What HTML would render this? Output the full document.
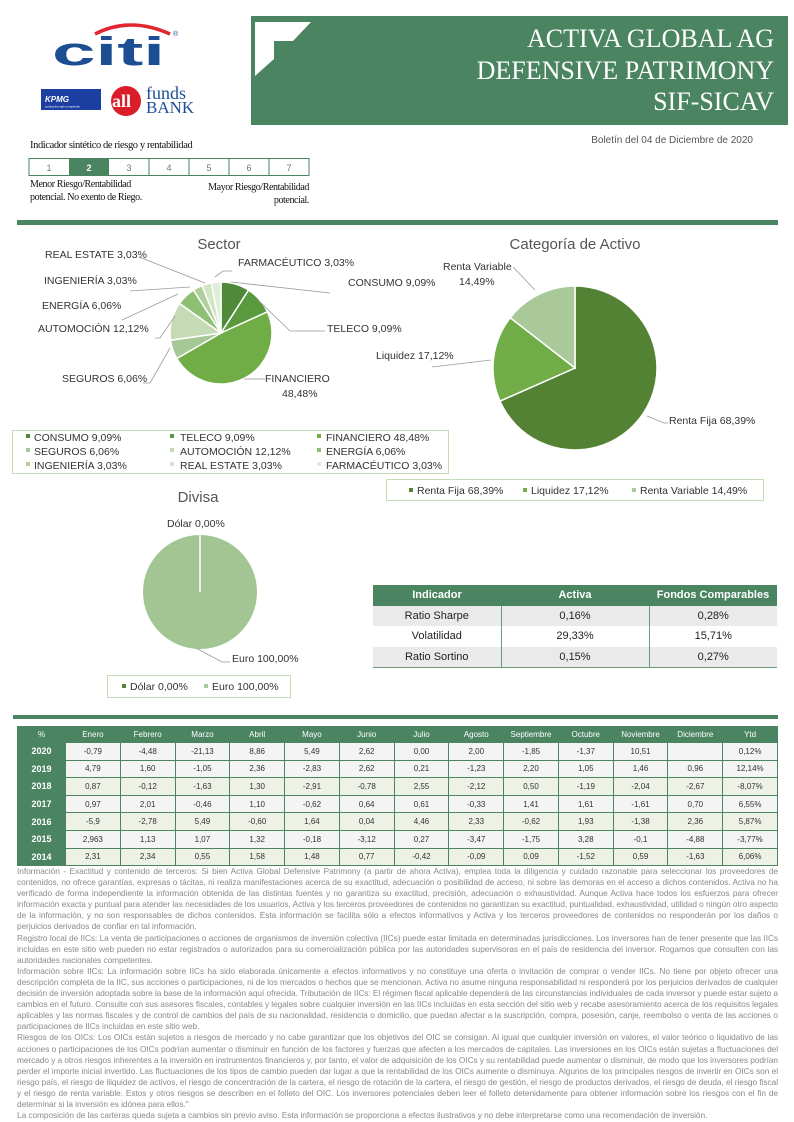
<!DOCTYPE html>
<html><head><meta charset="utf-8">
<style>
body{margin:0;background:#fff;}
#pg{position:relative;width:794px;height:1122px;overflow:hidden;font-family:"Liberation Sans",sans-serif;}
.abs{position:absolute;}
.disc{position:absolute;left:17px;top:866px;width:761px;font-size:8.3px;line-height:11.1px;color:#8a8a8a;text-align:justify;letter-spacing:-0.05px;}
.disc p{margin:0;}
table.m{position:absolute;left:17px;top:726px;width:761px;border-collapse:collapse;font-size:8px;color:#333;table-layout:fixed;}
table.m td{text-align:center;border:1px solid #4a8461;height:16.6px;padding:0;}
table.m tr.h td{background:#4a8461;color:#fff;height:15px;}
table.m td.y{background:#4a8461;color:#fff;font-weight:bold;font-size:9px;}
table.m tr.a td{background:#eef2e6;}
table.m tr.b td{background:#f4f4f4;}
table.m tr.a td.y,table.m tr.b td.y{background:#4a8461;}
table.ind{position:absolute;left:373px;top:585px;width:404px;border-collapse:collapse;font-size:11px;color:#222;}
table.ind td{text-align:center;height:20.5px;padding:0;border-left:1px solid #6b9a78;}
table.ind td:first-child{border-left:none;}
table.ind tr.h td{background:#4a8461;color:#fff;font-weight:bold;border:none;}
</style></head><body><div id="pg">
<svg class="abs" style="left:0;top:0" width="794" height="1122" xmlns="http://www.w3.org/2000/svg" font-family="Liberation Sans, sans-serif">
<rect x="251" y="16" width="537" height="109" fill="#4a8461"/>
<polygon points="255,22 311,22 293,41 274,41 274,59 255,76" fill="#fff"/>
<g fill="#fff" font-family="Liberation Serif, serif" font-size="26" text-anchor="end">
<text x="774" y="47">ACTIVA GLOBAL AG</text>
<text x="774" y="79">DEFENSIVE PATRIMONY</text>
<text x="774" y="110">SIF-SICAV</text>
</g>
<path d="M95,34 Q130,16 170,34" stroke="#e0262e" stroke-width="3.5" fill="none"/>
<text x="52" y="65" font-size="40" font-weight="bold" fill="#1d4e94" textLength="113" lengthAdjust="spacingAndGlyphs">citi</text>
<text x="173" y="36" font-size="7" fill="#1d4e94">®</text>
<rect x="41" y="89" width="60" height="21" fill="#1b3fa0"/>
<text x="45" y="102" font-size="8" font-style="italic" font-weight="bold" fill="#fff">KPMG</text>
<text x="45" y="107.5" font-size="3" fill="#fff">cutting through complexity</text>
<circle cx="126" cy="101" r="15" fill="#d91e2a"/>
<text x="112" y="107" font-size="18" font-weight="bold" fill="#fff" font-family="Liberation Serif, serif">all</text>
<text x="146" y="99" font-size="18" fill="#1d4e94" font-family="Liberation Serif, serif">funds</text>
<text x="146" y="113" font-size="17" fill="#1d4e94" font-family="Liberation Serif, serif">BANK</text>
<text x="30" y="148" font-size="10.5" font-family="Liberation Serif, serif" fill="#111" letter-spacing="-0.4">Indicador sintético de riesgo y rentabilidad</text>
<rect x="29" y="158.5" width="280" height="17" fill="#fff" stroke="#4a8461"/>
<rect x="69" y="158.5" width="40" height="17" fill="#4a8461"/>
<g stroke="#4a8461"><line x1="149" y1="158" x2="149" y2="176"/><line x1="189" y1="158" x2="189" y2="176"/><line x1="229" y1="158" x2="229" y2="176"/><line x1="269" y1="158" x2="269" y2="176"/></g>
<g font-size="9" text-anchor="middle" fill="#777"><text x="49" y="171">1</text><text x="89" y="171" fill="#fff" font-weight="bold">2</text><text x="129" y="171">3</text><text x="169" y="171">4</text><text x="209" y="171">5</text><text x="249" y="171">6</text><text x="289" y="171">7</text></g>
<g font-size="10" font-family="Liberation Serif, serif" fill="#111" letter-spacing="-0.4">
<text x="30" y="187">Menor Riesgo/Rentabilidad</text>
<text x="30" y="200">potencial. No exento de Riego.</text>
<text x="309" y="190" text-anchor="end">Mayor Riesgo/Rentabilidad</text>
<text x="309" y="203" text-anchor="end">potencial.</text>
</g>
<text x="753" y="143" font-size="10" fill="#555" text-anchor="end">Boletín del 04 de Diciembre de 2020</text>
<rect x="17" y="220" width="761" height="5" fill="#4a8461"/>
<rect x="13" y="715" width="765" height="4" fill="#4a8461"/>
<g id="p1"></g><g id="p2"></g><g id="p3"></g>
<g font-size="10.5" fill="#333" text-anchor="middle"><text x="219" y="249" font-size="15" fill="#555">Sector</text>
<text x="575" y="249" font-size="15" fill="#555">Categoría de Activo</text>
<text x="198" y="502" font-size="15" fill="#555">Divisa</text></g>
<g stroke="#999" stroke-width="0.8" fill="none">
<polyline points="139,257 205,283"/>
<polyline points="130,291 190,287"/>
<polyline points="122,320 178,294"/>
<polyline points="155,338 160,338 175,316"/>
<polyline points="143,383 150,383 170,348"/>
<polyline points="231,282 330,293"/>
<polyline points="258,300 290,331 325,331"/>
<polyline points="244,379 265,379"/>
<polyline points="215,277 223,271 232,271"/>
<polyline points="513,267 535,290"/>
<polyline points="432,367 491,360"/>
<polyline points="647,416 664,423 668,423"/>
<polyline points="196,648 222,662 230,662"/>
</g>
<g font-size="10.5" fill="#333">
<text x="45" y="258">REAL ESTATE 3,03%</text>
<text x="238" y="266">FARMACÉUTICO 3,03%</text>
<text x="44" y="284">INGENIERÍA  3,03%</text>
<text x="348" y="286">CONSUMO 9,09%</text>
<text x="42" y="309">ENERGÍA  6,06%</text>
<text x="38" y="332">AUTOMOCIÓN 12,12%</text>
<text x="327" y="332">TELECO 9,09%</text>
<text x="62" y="382">SEGUROS 6,06%</text>
<text x="265" y="382">FINANCIERO</text>
<text x="282" y="397">48,48%</text>
<text x="443" y="270">Renta Variable</text>
<text x="459" y="285">14,49%</text>
<text x="376" y="359">Liquidez 17,12%</text>
<text x="669" y="424">Renta Fija 68,39%</text>
<text x="167" y="527">Dólar 0,00%</text>
<text x="232" y="662">Euro 100,00%</text>
</g>
<rect x="12.5" y="430.5" width="436" height="43" fill="none" stroke="#c5dcb5"/>
<g font-size="10.5" fill="#333">
<rect x="26" y="434" width="4" height="4" fill="#4e8a3a"/><text x="34" y="441">CONSUMO 9,09%</text>
<rect x="170" y="434" width="4" height="4" fill="#5a9a3e"/><text x="180" y="441">TELECO 9,09%</text>
<rect x="317" y="434" width="4" height="4" fill="#70ad47"/><text x="326" y="441">FINANCIERO 48,48%</text>
<rect x="26" y="448" width="4" height="4" fill="#a6c896"/><text x="34" y="455">SEGUROS 6,06%</text>
<rect x="170" y="448" width="4" height="4" fill="#c5dbb5"/><text x="180" y="455">AUTOMOCIÓN 12,12%</text>
<rect x="317" y="448" width="4" height="4" fill="#8fbf72"/><text x="326" y="455">ENERGÍA  6,06%</text>
<rect x="26" y="462" width="4" height="4" fill="#b0d09b"/><text x="34" y="469">INGENIERÍA  3,03%</text>
<rect x="170" y="462" width="4" height="4" fill="#d3e5c7"/><text x="180" y="469">REAL ESTATE 3,03%</text>
<rect x="317" y="462" width="4" height="4" fill="#dfeed6"/><text x="326" y="469">FARMACÉUTICO 3,03%</text>
</g>
<rect x="386.5" y="479.5" width="377" height="21" fill="none" stroke="#c5dcb5"/>
<g font-size="10.5" fill="#333">
<rect x="409" y="488" width="4" height="4" fill="#548235"/><text x="417" y="494">Renta Fija 68,39%</text>
<rect x="523" y="488" width="4" height="4" fill="#70ad47"/><text x="531" y="494">Liquidez 17,12%</text>
<rect x="632" y="488" width="4" height="4" fill="#a9c99a"/><text x="640" y="494">Renta Variable 14,49%</text>
</g>
<rect x="107.5" y="675.5" width="183" height="22" fill="none" stroke="#c5dcb5"/>
<g font-size="10.5" fill="#333">
<rect x="122" y="684" width="4" height="4" fill="#548235"/><text x="130" y="690">Dólar 0,00%</text>
<rect x="204" y="684" width="4" height="4" fill="#a9c99a"/><text x="212" y="690">Euro 100,00%</text>
</g>
</svg>
<table class="ind">
<tr class="h"><td style="width:128px">Indicador</td><td style="width:148px">Activa</td><td>Fondos Comparables</td></tr>
<tr style="background:#eaeaea"><td>Ratio Sharpe</td><td>0,16%</td><td>0,28%</td></tr>
<tr style="background:#fff"><td>Volatilidad</td><td>29,33%</td><td>15,71%</td></tr>
<tr style="background:#eaeaea;border-bottom:1px solid #6b9a78"><td>Ratio Sortino</td><td>0,15%</td><td>0,27%</td></tr>
</table>
<table class="m">
<colgroup><col style="width:48px"><col><col><col><col><col><col><col><col><col><col><col><col><col></colgroup>
<tr class="h"><td>%</td><td>Enero</td><td>Febrero</td><td>Marzo</td><td>Abril</td><td>Mayo</td><td>Junio</td><td>Julio</td><td>Agosto</td><td>Septiembre</td><td>Octubre</td><td>Noviembre</td><td>Diciembre</td><td>Ytd</td></tr>
<tr class="b"><td class="y">2020</td><td>-0,79</td><td>-4,48</td><td>-21,13</td><td>8,86</td><td>5,49</td><td>2,62</td><td>0,00</td><td>2,00</td><td>-1,85</td><td>-1,37</td><td>10,51</td><td></td><td>0,12%</td></tr>
<tr class="b"><td class="y">2019</td><td>4,79</td><td>1,60</td><td>-1,05</td><td>2,36</td><td>-2,83</td><td>2,62</td><td>0,21</td><td>-1,23</td><td>2,20</td><td>1,05</td><td>1,46</td><td>0,96</td><td>12,14%</td></tr>
<tr class="a"><td class="y">2018</td><td>0,87</td><td>-0,12</td><td>-1,63</td><td>1,30</td><td>-2,91</td><td>-0,78</td><td>2,55</td><td>-2,12</td><td>0,50</td><td>-1,19</td><td>-2,04</td><td>-2,67</td><td>-8,07%</td></tr>
<tr class="b"><td class="y">2017</td><td>0,97</td><td>2,01</td><td>-0,46</td><td>1,10</td><td>-0,62</td><td>0,64</td><td>0,61</td><td>-0,33</td><td>1,41</td><td>1,61</td><td>-1,61</td><td>0,70</td><td>6,55%</td></tr>
<tr class="a"><td class="y">2016</td><td>-5,9</td><td>-2,78</td><td>5,49</td><td>-0,60</td><td>1,64</td><td>0,04</td><td>4,46</td><td>2,33</td><td>-0,62</td><td>1,93</td><td>-1,38</td><td>2,36</td><td>5,87%</td></tr>
<tr class="b"><td class="y">2015</td><td>2,963</td><td>1,13</td><td>1,07</td><td>1,32</td><td>-0,18</td><td>-3,12</td><td>0,27</td><td>-3,47</td><td>-1,75</td><td>3,28</td><td>-0,1</td><td>-4,88</td><td>-3,77%</td></tr>
<tr class="a"><td class="y">2014</td><td>2,31</td><td>2,34</td><td>0,55</td><td>1,58</td><td>1,48</td><td>0,77</td><td>-0,42</td><td>-0,09</td><td>0,09</td><td>-1,52</td><td>0,59</td><td>-1,63</td><td>6,06%</td></tr>
</table>
<div class="disc">
<p>Información - Exactitud y contenido de terceros: Si bien Activa Global Defensive Patrimony (a partir de ahora Activa), emplea toda la diligencia y cuidado razonable para seleccionar los proveedores de contenidos, no ofrece garantías, expresas o tácitas, ni realiza manifestaciones acerca de su exactitud, adecuación o posibilidad de acceso, ni sobre las demoras en el acceso a dichos contenidos. Activa no ha verificado de forma independiente la información obtenida de las distintas fuentes y no garantiza su exactitud, precisión, adecuación o exhaustividad. Aunque Activa hace todos los esfuerzos para ofrecer información exacta y puntual para atender las necesidades de los usuarios, Activa y los terceros proveedores de contenidos no garantizan su exactitud, puntualidad, exhaustividad, utilidad o ningún otro aspecto de la información, y no son responsables de dichos contenidos. Esta información se facilita sólo a efectos informativos y Activa y los terceros proveedores de contenidos no responderán por los daños o perjuicios derivados de confiar en tal información.</p>
<p>Registro local de IICs: La venta de participaciones o acciones de organismos de inversión colectiva (IICs) puede estar limitada en determinadas jurisdicciones. Los inversores han de tener presente que las IICs incluidas en este sitio web pueden no estar registrados o autorizados para su comercialización pública por las autoridades supervisoras en el país de residencia del inversor. Rogamos que consulten con las autoridades nacionales competentes.</p>
<p>Información sobre IICs: La información sobre IICs ha sido elaborada únicamente a efectos informativos y no constituye una oferta o invitación de comprar o vender IICs. No tiene por objeto ofrecer una descripción completa de la IIC, sus acciones o participaciones, ni de los mercados o hechos que se mencionan. Activa no asume ninguna responsabilidad ni responderá por los perjuicios derivados de cualquier decisión de inversión adoptada sobre la base de la información aquí ofrecida. Tributación de IICs: El régimen fiscal aplicable dependerá de las circunstancias individuales de cada inversor y puede estar sujeto a cambios en el futuro. Consulte con sus asesores fiscales, contables y legales sobre cualquier inversión en las IICs incluidas en esta sección del sitio web y recabe asesoramiento acerca de los requisitos legales aplicables y las normas fiscales y de control de cambios del país de su nacionalidad, residencia o domicilio, que puedan afectar a la suscripción, compra, posesión, canje, reembolso o venta de las acciones o participaciones de IICs incluidas en este sitio web.</p>
<p>Riesgos de los OICs: Los OICs están sujetos a riesgos de mercado y no cabe garantizar que los objetivos del OIC se consigan. Al igual que cualquier inversión en valores, el valor teórico o liquidativo de las acciones o participaciones de los OICs podrían aumentar o disminuir en función de los factores y fuerzas que afecten a los mercados de capitales. Las inversiones en los OICs están sujetas a fluctuaciones del mercado y a otros riesgos inherentes a la inversión en instrumentos financieros y, por tanto, el valor de adquisición de los OICs y su rentabilidad puede aumentar o disminuir, de modo que los inversores podrían perder el importe inicial invertido. Las fluctuaciones de los tipos de cambio pueden dar lugar a que la rentabilidad de los OICs aumente o disminuya. Algunos de los principales riesgos de invertir en OICs son el riesgo país, el riesgo de iliquidez de activos, el riesgo de concentración de la cartera, el riesgo de rotación de la cartera, el riesgo de gestión, el riesgo de productos derivados, el riesgo de deuda, el riesgo fiscal y el riesgo de renta variable. Estos y otros riesgos se describen en el folleto del OIC. Los inversores potenciales deben leer el folleto detenidamente para obtener información sobre los riesgos con el fin de determinar si la inversión es idónea para ellos."</p>
<p>La composición de las carteras queda sujeta a cambios sin previo aviso. Esta información se proporciona a efectos ilustrativos y no debe interpretarse como una recomendación de inversión.</p>
</div>
<script>
function pie(id,cx,cy,r,vals,cols){var g=document.getElementById(id),a=-Math.PI/2,tot=vals.reduce(function(s,v){return s+v},0),h='';
for(var i=0;i<vals.length;i++){var d=vals[i]/tot*2*Math.PI;if(d<=0)continue;var b=a+d;
if(d>=2*Math.PI-1e-6){h+='<circle cx="'+cx+'" cy="'+cy+'" r="'+r+'" fill="'+cols[i]+'"/>';}else{
var x1=cx+r*Math.cos(a),y1=cy+r*Math.sin(a),x2=cx+r*Math.cos(b),y2=cy+r*Math.sin(b);
h+='<path d="M'+cx+','+cy+'L'+x1+','+y1+'A'+r+','+r+' 0 '+(d>Math.PI?1:0)+' 1 '+x2+','+y2+'Z" fill="'+cols[i]+'" stroke="#fff" stroke-width="1.5"/>';}a=b;}
g.innerHTML=h;}
pie('p1',221,333,51,[9.09,9.09,48.48,6.06,12.12,6.06,3.03,3.03,3.03],['#4e8a3a','#5a9a3e','#70ad47','#a6c896','#c5dbb5','#8fbf72','#b0d09b','#d3e5c7','#dfeed6']);
pie('p2',575,368,82,[68.39,17.12,14.49],['#548235','#70ad47','#a9c99a']);
pie('p3',200,592,57,[100],['#a3c593']);
document.getElementById('p3').innerHTML+='<line x1="200" y1="535" x2="200" y2="592" stroke="#fff" stroke-width="1.5"/>';
</script>
</div></body></html>
